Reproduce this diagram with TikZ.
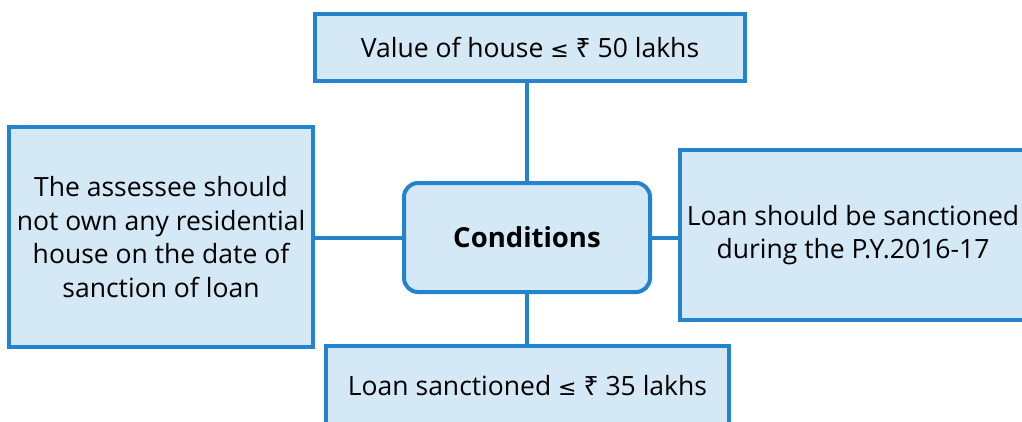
\documentclass[tikz,border=0pt]{standalone}
\usepackage{fontspec}
\setmainfont{Open Sans}
\newfontfamily\rupfont{Noto Sans}
\newfontfamily\lefont{DejaVu Sans}
\definecolor{boxline}{RGB}{35,131,204}
\definecolor{boxfill}{RGB}{212,232,246}
\newcommand{\myleq}{{\lefont\fontsize{22}{22}\selectfont ≤}}
\newcommand{\myrup}{{\rupfont ₹}}
\begin{document}
\begin{tikzpicture}[x=1pt,y=-1pt,
  box/.style={draw=boxline,fill=boxfill,line width=4pt,align=center,font=\fontsize{26.5}{33.5}\selectfont,inner sep=0pt},
  conn/.style={draw=boxline,line width=4pt}]
\useasboundingbox (0,0) rectangle (1022,421);
\clip (0,0) rectangle (1022,421);
\node[box,minimum width=430pt,minimum height=67pt] (top) at (530,47) {Value of house \myleq{} \myrup{} 50 lakhs};
\node[box,rounded corners=14pt,minimum width=246pt,minimum height=109pt,font=\fontsize{27.5}{30}\selectfont\bfseries] (cond) at (527,237.5) {Conditions};
\node[box,minimum width=304pt,minimum height=220pt] (left) at (161,237) {The assessee should\\not own any residential\\house on the date of\\sanction of loan};
\node[box,minimum width=346pt,minimum height=170pt] (right) at (853,235) {Loan should be sanctioned\\during the P.Y.2016-17};
\node[box,minimum width=403pt,minimum height=80pt] (bot) at (527.5,386) {Loan sanctioned \myleq{} \myrup{} 35 lakhs};
\draw[conn] (top.south -| cond.north) -- (cond.north);
\draw[conn] (cond.south) -- (cond.south |- bot.north);
\draw[conn] (left.east |- cond.west) -- (cond.west);
\draw[conn] (cond.east) -- (right.west |- cond.east);
\end{tikzpicture}
\end{document}
